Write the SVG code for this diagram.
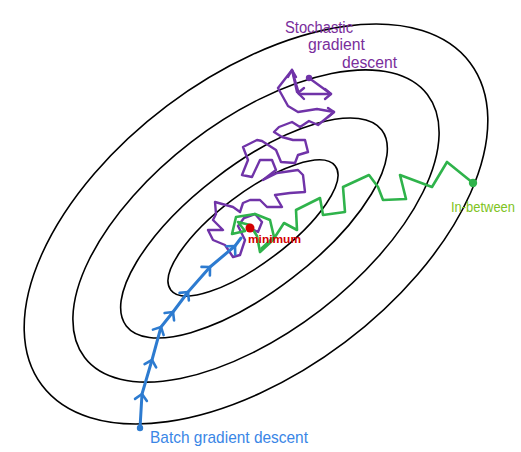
<svg xmlns="http://www.w3.org/2000/svg" width="521" height="452" viewBox="0 0 521 452">
<style>
.contour{fill:none;stroke:#000;stroke-width:1.6}
.sgd{fill:none;stroke:#7033a8;stroke-width:2.4;stroke-linejoin:round;stroke-linecap:round}
.bgd{fill:none;stroke:#2d7bd0;stroke-width:3;stroke-linejoin:round;stroke-linecap:round}
.mb{fill:none;stroke:#2fb34b;stroke-width:2.6;stroke-linejoin:round;stroke-linecap:round}
.lbl{font-family:"Liberation Sans","DejaVu Sans",sans-serif}
</style>
<defs>
<marker id="chevB" markerUnits="userSpaceOnUse" markerWidth="20" markerHeight="20" viewBox="-10 -10 20 20" refX="0" refY="0" orient="auto">
<path d="M-6,-6 L0,0 L-6,6" fill="none" stroke="#2d7bd0" stroke-width="2.6" stroke-linecap="round" stroke-linejoin="round"/>
</marker>
</defs>
<rect width="521" height="452" fill="#fff"/>
<g id="contours">
<ellipse class="contour" cx="256" cy="224" rx="268" ry="148" transform="rotate(-37 256 224)"/>
<ellipse class="contour" cx="256" cy="226" rx="216" ry="106" transform="rotate(-37.5 256 226)"/>
<ellipse class="contour" cx="254" cy="228" rx="161" ry="63" transform="rotate(-37.5 254 228)"/>
<ellipse class="contour" cx="253" cy="228" rx="103" ry="35" transform="rotate(-37 253 228)"/>
</g>
<g id="connectors">
<path id="sgd-path" class="sgd" d="M309,78 L331,94 L299,94 L292,70 L278,88 L288,106 L298,112 L317,109 L334,112 L318,125 L309,121 L300,127 L292,122 L279,127 L274,132 L282,137 L293,140 L305,140 L308,152 L298,155 L295,163 L281,162 L276,150 L262,141 L257,140 L243,147 L248,160 L242,175 L252,177 L260,160 L272,160 L276,170 L263,180 L277,173 L298,170 L303,175 L305,192 L290,193 L275,195 L282,207 L267,207 L260,200 L250,200 L243,203 L240,212 L233,207 L215,202 L216,214 L213,220 L223,230 L208,230 L213,240 L225,245 L233,257 L240,255 L245,240 L238,226 L244,218 L255,214 L262,222 L258,232 L250,228"/>
<path class="sgd" d="M292,70 L297,92 M298,93 L304,88 M298,93 L304,99"/>
<path class="sgd" d="M325,89 L331,94 L325,99 M328,108 L334,112 L328,117 M292,70 L288,77 M292,70 L296,77"/>
<path id="bgd-path" class="bgd" d="M140,428 L142,394 L152,360 L161,327 L173,312 L188,292 L210,267 L235,246 L241,238" marker-mid="url(#chevB)"/>
<path id="mb-path" class="mb" d="M473,183 L447,162 L432,187 L400,175 L406,199 L383,200 L378,187 L369,175 L343,187 L345,212 L323,215 L320,198 L296,210 L297,230 L284,223 L273,240 L260,252 L257,236 L250,225 L238,222 L245,231 L232,234 L236,217 L255,214 L270,220 L274,237 L262,248"/>
</g>
<g id="start-sgd"><circle cx="309" cy="78" r="3.2" fill="#7033a8"/></g>
<g id="start-bgd"><circle cx="140" cy="428" r="3.2" fill="#2d7bd0"/></g>
<g id="start-mb"><circle cx="473" cy="183" r="4.2" fill="#2fb34b"/></g>
<g id="minimum">
<circle cx="250" cy="228" r="4.5" fill="#d40000"/>
<text class="lbl" x="248" y="243" font-size="11" font-weight="bold" fill="#d40000" textLength="53" lengthAdjust="spacingAndGlyphs">minimum</text>
</g>
<g id="label-sgd" fill="#7a2e9c" font-size="16">
<text class="lbl" x="285" y="33" textLength="68" lengthAdjust="spacingAndGlyphs">Stochastic</text>
<text class="lbl" x="308" y="50" textLength="57" lengthAdjust="spacingAndGlyphs">gradient</text>
<text class="lbl" x="342" y="68" textLength="55" lengthAdjust="spacingAndGlyphs">descent</text>
</g>
<g id="label-bgd"><text class="lbl" x="150" y="443" font-size="17" fill="#3a86e6" textLength="158" lengthAdjust="spacingAndGlyphs">Batch gradient descent</text></g>
<g id="label-mb"><text class="lbl" x="451" y="212" font-size="14" fill="#7ec321" textLength="64" lengthAdjust="spacingAndGlyphs">In-between</text></g>
</svg>
